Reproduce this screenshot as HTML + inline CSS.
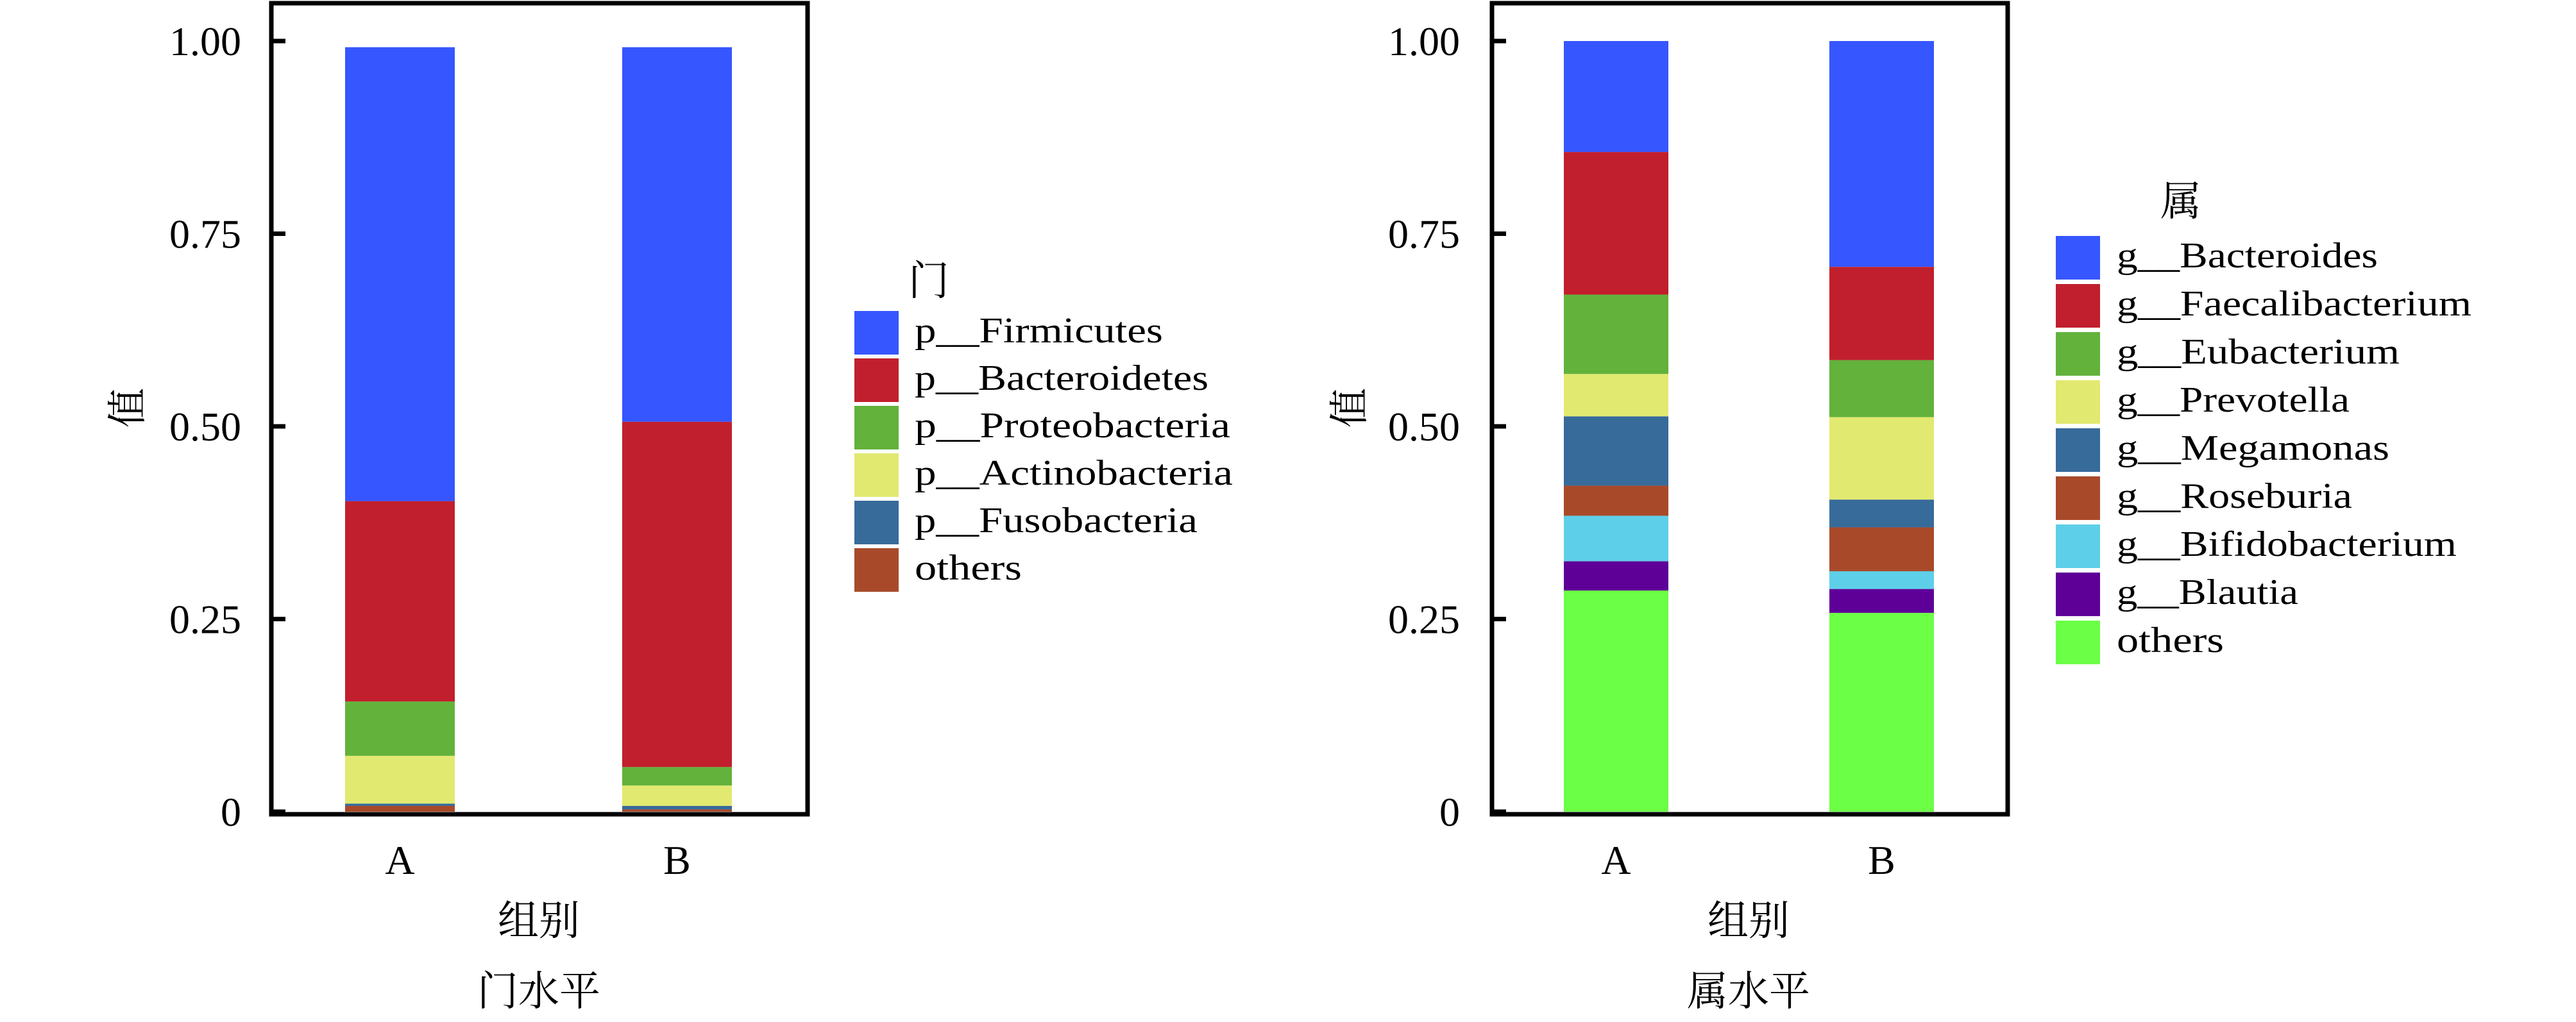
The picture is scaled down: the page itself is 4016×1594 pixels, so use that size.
<!DOCTYPE html>
<html><head><meta charset="utf-8"><style>
html,body{margin:0;padding:0;background:#fff;}
svg{display:block;}
text{font-family:"Liberation Serif","Noto Serif CJK SC",serif;fill:#000;}
</style></head><body>
<svg id="chart" width="4016" height="1594" viewBox="0 0 4016 1594" xmlns="http://www.w3.org/2000/svg"></svg>
<script>
// ---- data ----
const groups = ["A", "B"];
const phylumNames = ["p__Firmicutes","p__Bacteroidetes","p__Proteobacteria","p__Actinobacteria","p__Fusobacteria","others"];
const phylumA = [0.589, 0.260, 0.0705, 0.062, 0.003, 0.0075];
const phylumB = [0.486, 0.448, 0.024, 0.0265, 0.0045, 0.003];
const genusNames = ["g__Bacteroides","g__Faecalibacterium","g__Eubacterium","g__Prevotella","g__Megamonas","g__Roseburia","g__Bifidobacterium","g__Blautia","others"];
const genusA = [0.144, 0.185, 0.103, 0.055, 0.090, 0.039, 0.059, 0.038, 0.287];
const genusB = [0.293, 0.121, 0.074, 0.107, 0.036, 0.057, 0.023, 0.031, 0.258];
const tickValues = [0, 0.25, 0.5, 0.75, 1.0];
const tickLabels = ["0", "0.25", "0.50", "0.75", "1.00"];

const phylumColors = ["#3656FF","#C11F2D","#62B23B","#E2E970","#376B9A","#A84A2A"];
const genusColors = ["#3656FF","#C11F2D","#62B23B","#E2E970","#376B9A","#A84A2A","#5ECFE8","#5E0098","#6BFF45"];
const phylumTextW = [387,458,492,496,441,167];
const genusTextW = [407,553,441,363,425,367,530,283,167];

const NS = "http://www.w3.org/2000/svg";
const svg = document.getElementById("chart");
function mk(tag, attrs, parent){ const e=document.createElementNS(NS,tag); for(const k in attrs) e.setAttribute(k,attrs[k]); (parent||svg).appendChild(e); return e; }

function yScale(v){ return 1266 - 1202*v; }

function panel(cfg){
  const g = mk("g",{});
  
  
  // bars
  cfg.series.forEach((vals, gi) => {
    let cum = 0;
    // stack from bottom: last item at bottom
    for (let i = vals.length - 1; i >= 0; i--) {
      const y0 = yScale(cum), y1 = yScale(cum + vals[i]);
      const r = mk("rect",{x:cfg.barX[gi], y:y1, width:cfg.barW, height:y0-y1, fill:cfg.colors[i]}, g);
      
      
      cum += vals[i];
    }
    const t = mk("text",{x:cfg.barX[gi]+cfg.barW/2, y:1363, "font-size":64, "text-anchor":"middle"}, g);
    t.textContent = groups[gi];
    
    
  });
  // frame
  const f = mk("rect",{x:cfg.fx0, y:5, width:cfg.fx1-cfg.fx0, height:1265, fill:"none", stroke:"#000", "stroke-width":7}, g);
  
  
  // ticks
  tickValues.forEach((v, i) => {
    const y = yScale(v);
    const tk = mk("line",{x1:cfg.fx0, x2:cfg.fx0+22, y1:y, y2:y, stroke:"#000", "stroke-width":7}, g);
    
    
    const t = mk("text",{x:cfg.tickRight, y:y+22, "font-size":64, "text-anchor":"end"}, g);
    t.textContent = tickLabels[i];
    
    
  });
  // y title
  const yt = mk("text",{x:0, y:0, "font-size":62, "text-anchor":"middle", transform:"translate("+(cfg.yTitleX+22)+",636) rotate(-90)"}, g);
  yt.textContent = "值";
  
  
  const xt = mk("text",{x:cfg.xTitleX, y:1458, "font-size":64, "text-anchor":"middle"}, g);
  xt.textContent = "组别";
  
  
  const pt = mk("text",{x:cfg.xTitleX, y:1568, "font-size":64, "text-anchor":"middle"}, g);
  pt.textContent = cfg.caption;
  
  
  // legend
  const lg = mk("g",{}, g);
  
  
  const lt = mk("text",{x:cfg.legTitleX, y:cfg.legTitleY, "font-size":64, "text-anchor":"middle"}, lg);
  lt.textContent = cfg.legTitle;
  
  
  cfg.names.forEach((n, i) => {
    const top = cfg.legTop + cfg.legPitch*i;
    const sw = mk("rect",{x:cfg.swX, y:top, width:69, height:68, fill:cfg.colors[i]}, lg);
    
    
    const t = mk("text",{x:cfg.txtX, y:top+49, "font-size":56, textLength:cfg.textW[i], lengthAdjust:"spacingAndGlyphs"}, lg);
    t.textContent = n;
    
    
  });
}

panel({name:"phylum-chart", series:[phylumA, phylumB], names:phylumNames, colors:phylumColors, textW:phylumTextW,
  barX:[538, 970], barW:171, fx0:423, fx1:1259, tickRight:376, yTitleX:198, xTitleX:840, caption:"门水平",
  legTitle:"门", legTitleX:1448, legTitleY:460, legTop:485, legPitch:74, swX:1332, txtX:1426});
panel({name:"genus-chart", series:[genusA, genusB], names:genusNames, colors:genusColors, textW:genusTextW,
  barX:[2438, 2852], barW:163, fx0:2326, fx1:3130, tickRight:2276, yTitleX:2103, xTitleX:2726, caption:"属水平",
  legTitle:"属", legTitleX:3400, legTitleY:336, legTop:368, legPitch:75, swX:3205, txtX:3300});
</script>
</body></html>
